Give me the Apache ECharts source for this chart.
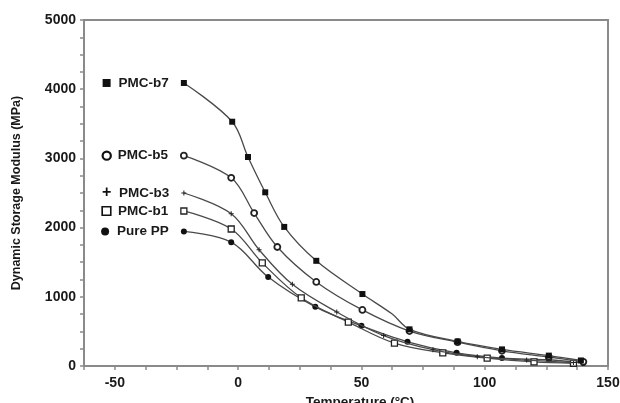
<!DOCTYPE html>
<html>
<head>
<meta charset="utf-8">
<script src="https://cdn.jsdelivr.net/npm/echarts@6/dist/echarts.min.js"></script>
<style>
  html, body { margin: 0; padding: 0; background: #fff; }
  #chart { width: 620px; height: 403px; }
</style>
</head>
<body>
<div id="chart"></div>
<script>
// Dynamic storage modulus vs temperature for PP and PMC-b composites
const seriesNames = ['PMC-b7', 'PMC-b5', 'PMC-b3', 'PMC-b1', 'Pure PP'];

const b7Temp = [-22, -2.4, 4, 11, 18.7, 31.7, 50.4, 62.5, 69.5, 89, 107, 126, 139];
const b7Mod  = [4090, 3530, 3020, 2510, 2010, 1520, 1040, 750, 530, 355, 240, 150, 80];
const b7NoMarker = [7];

const b5Temp = [-22, -2.8, 6.5, 15.9, 31.7, 50.4, 69.5, 89, 107, 126, 140];
const b5Mod  = [3040, 2720, 2210, 1720, 1215, 810, 505, 345, 220, 130, 60];

const b3Temp = [-22, -2.8, 8.5, 22, 40, 59, 79, 97, 117, 136];
const b3Mod  = [2500, 2200, 1680, 1180, 780, 440, 235, 135, 85, 50];

const b1Temp = [-22, -2.8, 9.8, 25.6, 44.7, 63.4, 83, 101, 120, 136];
const b1Mod  = [2240, 1980, 1490, 985, 635, 330, 190, 115, 60, 40];

const ppTemp = [-22, -2.8, 12.2, 31.3, 50, 68.7, 88.6, 107, 126, 140];
const ppMod  = [1945, 1790, 1285, 855, 580, 350, 190, 115, 90, 45];

const xTicks = [-50, 0, 50, 100, 150];
const yTicks = [0, 1000, 2000, 3000, 4000, 5000];

const FONT = '"Liberation Sans", Arial, sans-serif';
const INK = '#1a1a1a';
const LINE = '#4a4a4a';
const AXIS = '#8a8a8a';

const plusPath = 'path://M4,0H6V4H10V6H6V10H4V6H0V4H4Z';

const markerStyles = [
  { symbol: 'rect', symbolSize: 6, item: { color: '#111', borderColor: '#111', borderWidth: 0 },
    key: { width: 8, height: 8, backgroundColor: '#111' } },
  { symbol: 'circle', symbolSize: 6, item: { color: '#fff', borderColor: '#222', borderWidth: 1.8 },
    key: { width: 6, height: 6, backgroundColor: '#fff', borderColor: '#111', borderWidth: 2.2, borderRadius: 5 } },
  { symbol: plusPath, symbolSize: 5, item: { color: '#222', borderWidth: 0 }, key: null },
  { symbol: 'rect', symbolSize: 6, item: { color: '#fff', borderColor: '#222', borderWidth: 1.3 },
    key: { width: 7, height: 7, backgroundColor: '#fff', borderColor: '#111', borderWidth: 1.6 } },
  { symbol: 'circle', symbolSize: 6, item: { color: '#111', borderWidth: 0 },
    key: { width: 8, height: 8, backgroundColor: '#111', borderRadius: 4 } }
];

const temps = [b7Temp, b5Temp, b3Temp, b1Temp, ppTemp];
const mods = [b7Mod, b5Mod, b3Mod, b1Mod, ppMod];
const hidden = [b7NoMarker, [], [], [], []];

function keyRich(i) {
  const k = markerStyles[i].key;
  if (!k) {
    return { m: { fontFamily: FONT, fontSize: 16, fontWeight: 'bold', color: '#111', width: 9, align: 'center' } };
  }
  return { m: Object.assign({}, k) };
}

const series = seriesNames.map((name, i) => {
  const ms = markerStyles[i];
  const data = temps[i].map((t, j) => {
    const item = { value: [t, mods[i][j]] };
    if (hidden[i].indexOf(j) >= 0) item.symbol = 'none';
    if (j === 0) {
      item.label = {
        show: true,
        position: 'left',
        distance: 12,
        formatter: (ms.key ? '{m| }' : '{m|+}') + '{t|' + name + '}',
        rich: Object.assign(keyRich(i), {
          t: { fontFamily: FONT, fontSize: 13.5, fontWeight: 'bold', color: INK, padding: [0, 0, 0, 8] }
        })
      };
    }
    return item;
  });
  return {
    name: name,
    type: 'line',
    smooth: 0.35,
    data: data,
    symbol: ms.symbol,
    symbolSize: ms.symbolSize,
    itemStyle: ms.item,
    lineStyle: { color: LINE, width: 1.3 },
    z: 5 - i,
    animation: false
  };
});

const chart = echarts.init(document.getElementById('chart'), null, { renderer: 'canvas' });
chart.setOption({
  backgroundColor: '#fff',
  animation: false,
  grid: {
    left: 84, right: 12, top: 20, bottom: 37,
    containLabel: false,
    outerBoundsMode: 'none',
    show: true, borderColor: AXIS, borderWidth: 2, backgroundColor: 'transparent'
  },
  xAxis: {
    type: 'value',
    min: -62.5, max: 150, interval: 12.5,
    name: 'Temperature (°C)',
    nameLocation: 'middle',
    nameGap: 26,
    nameTextStyle: { fontFamily: FONT, fontSize: 13.5, fontWeight: 'bold', color: INK, padding: [0, 0, 0, 28] },
    axisLine: { show: true, onZero: false, lineStyle: { color: AXIS, width: 2 } },
    axisTick: { show: true, length: 4, lineStyle: { color: AXIS, width: 1.5 } },
    axisLabel: {
      margin: 10,
      fontFamily: FONT, fontSize: 14, fontWeight: 'bold', color: INK,
      formatter: v => (xTicks.indexOf(v) >= 0 ? String(v) : '')
    },
    splitLine: { show: false }
  },
  yAxis: {
    type: 'value',
    min: 0, max: 5000, interval: 250,
    name: 'Dynamic Storage Modulus (MPa)',
    nameLocation: 'middle',
    nameGap: 61,
    nameTextStyle: { fontFamily: FONT, fontSize: 12.5, fontWeight: 'bold', color: INK },
    axisLine: { show: true, onZero: false, lineStyle: { color: AXIS, width: 2 } },
    axisTick: { show: true, length: 4, lineStyle: { color: AXIS, width: 1.5 } },
    axisLabel: {
      margin: 8,
      fontFamily: FONT, fontSize: 14, fontWeight: 'bold', color: INK,
      formatter: v => (yTicks.indexOf(v) >= 0 ? String(v) : '')
    },
    splitLine: { show: false }
  },
  series: series
});
</script>
</body>
</html>
